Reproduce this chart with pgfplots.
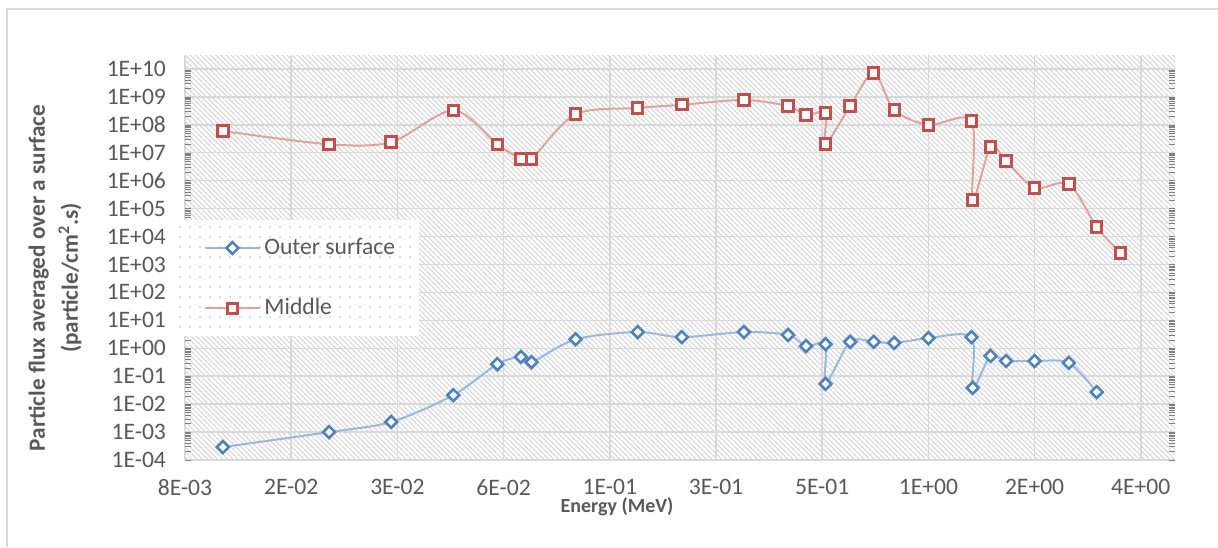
\documentclass[border=0pt]{standalone}
\usepackage{pgfplots}
\pgfplotsset{compat=1.18}
\usepackage{pgfplotstable}
\usetikzlibrary{patterns.meta}
\usepackage{fontspec}
\setmainfont{Carlito}
\definecolor{tickgray}{HTML}{595959}
\definecolor{gridgray}{HTML}{D9D9D9}
\definecolor{hatchgray}{HTML}{D2D2D2}
\definecolor{mblue}{HTML}{4F81BD}
\definecolor{lblue}{HTML}{9BB7DB}
\definecolor{mred}{HTML}{C0504D}
\definecolor{lred}{HTML}{E0A3A2}
\definecolor{dotblue}{HTML}{A9C1E6}

\pgfplotstableread{
E flux
0.01 2.9e-4
0.02 1.0e-3
0.03 2.3e-3
0.045 2.1e-2
0.06 0.27
0.07 0.49
0.075 0.32
0.1 2.1
0.15 3.8
0.2 2.5
0.3 3.8
0.4 3.0
0.45 1.2
0.511 1.4
0.511 0.053
0.6 1.7
0.7 1.7
0.8 1.55
1.0 2.3
1.325 2.5
1.335 0.038
1.5 0.53
1.66 0.35
2.0 0.35
2.5 0.30
3.0 0.027
}\outersurfacetab

\pgfplotstableread{
E flux
0.01 6.0e7
0.02 2.0e7
0.03 2.4e7
0.045 3.3e8
0.06 2.0e7
0.07 6.0e6
0.075 6.0e6
0.1 2.4e8
0.15 4.0e8
0.2 5.2e8
0.3 7.7e8
0.4 4.7e8
0.45 2.25e8
0.511 2.66e8
0.511 2.07e7
0.6 4.7e8
0.7 7.2e9
0.8 3.4e8
1.0 9.9e7
1.325 1.37e8
1.335 2.04e5
1.5 1.6e7
1.66 5.1e6
2.0 5.5e5
2.5 7.6e5
3.0 2.2e4
3.5 2.6e3
}\middletab

\begin{document}
\begin{tikzpicture}
\useasboundingbox (0pt,0pt) rectangle (609pt,273.5pt);
\draw[gridgray, line width=0.75pt] (3.5pt,0pt) -- (3.5pt,269pt) -- (609pt,269pt);
\begin{axis}[
  at={(92.5pt,43.5pt)}, anchor=south west,
  scale only axis, width=495pt, height=202pt,
  xmode=log, ymode=log,
  xmin=0.0078125, xmax=5,
  ymin=1e-4, ymax=2.9e10,
  xtick={0.0078125,0.015625,0.03125,0.0625,0.125,0.25,0.5,1,2,4},
  xticklabels={8E-03,2E-02,3E-02,6E-02,1E-01,3E-01,5E-01,1E+00,2E+00,4E+00},
  ytick={1e-4,1e-3,1e-2,1e-1,1,1e1,1e2,1e3,1e4,1e5,1e6,1e7,1e8,1e9,1e10},
  yticklabels={1E-04,1E-03,1E-02,1E-01,1E+00,1E+01,1E+02,1E+03,1E+04,1E+05,1E+06,1E+07,1E+08,1E+09,1E+10},
  minor tick num=0,
  major tick length=0pt,
  axis line style={draw=none},
  grid=major,
  major grid style={gridgray, line width=0.75pt},
  axis background/.style={pattern={Lines[angle=-45,distance=1.8pt,line width=0.45pt]}, pattern color=hatchgray},
  tick label style={font=\fontsize{11.8}{14}\selectfont, text=tickgray},
  xticklabel style={yshift=-6pt},
  yticklabel style={xshift=-6pt},
  xlabel={Energy (MeV)},
  xlabel style={at={(rel axis cs:0.4364,-0.1163)}, anchor=center, font=\fontsize{10}{12}\selectfont\bfseries, text=tickgray},
  ylabel={Particle flux averaged over a surface\\(particle/cm\textsuperscript{2}.s)},
  ylabel style={at={(rel axis cs:-0.1313,0.4505)}, anchor=center, align=center, font=\fontsize{11.6}{16.5}\selectfont\bfseries, text=tickgray},
  legend style={at={(rel axis cs:-0.0131,0.594)}, anchor=north west, draw=none, fill=white,
    postaction={pattern={Dots[distance=5pt,radius=0.45pt]}, pattern color=dotblue},
    font=\fontsize{11.8}{14}\selectfont, text=tickgray, inner xsep=10pt, inner ysep=7pt, row sep=16.5pt},
  legend cell align=left,
  legend image code/.code={\path (0pt,0pt); \draw[mark repeat=2,mark phase=2,#1] plot coordinates {(6pt,0pt) (19.5pt,0pt) (33pt,0pt)};},
]
\addplot[lblue, line width=1pt, smooth, tension=0.5, mark=square*, mark size=2.1pt,
  mark options={rotate=45, solid, fill=white, draw=mblue, line width=1.3pt}]
  table[x=E, y=flux] {\outersurfacetab};
\addlegendentry{Outer surface}
\addplot[lred, line width=1pt, smooth, tension=0.5, mark=square*, mark size=2.6pt,
  mark options={solid, fill=white, draw=mred, line width=1.5pt}]
  table[x=E, y=flux] {\middletab};
\addlegendentry{Middle}
\end{axis}
\end{tikzpicture}
\end{document}
